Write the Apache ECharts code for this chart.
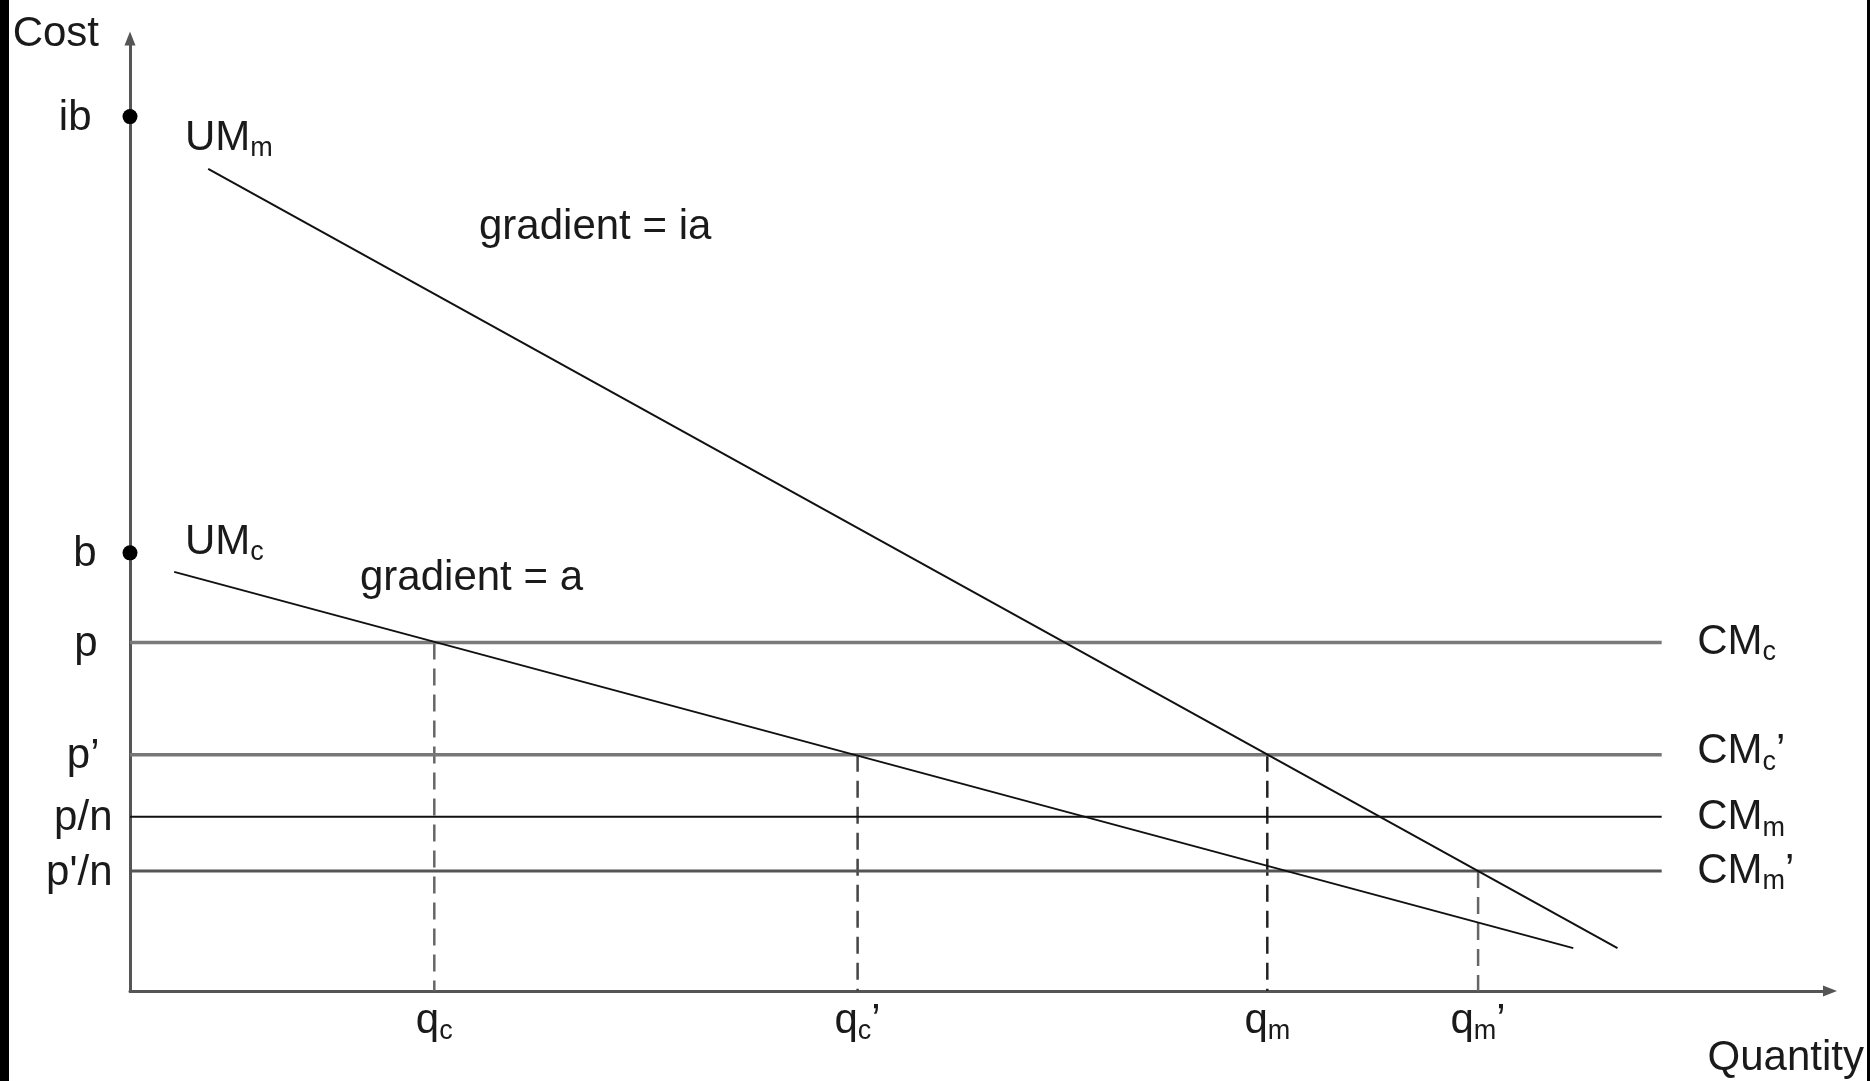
<!DOCTYPE html>
<html><head><meta charset="utf-8">
<script src="https://cdn.jsdelivr.net/npm/echarts@6/dist/echarts.min.js"></script>
<style>html,body{margin:0;padding:0;background:#fff}#c{width:1870px;height:1081px}</style>
</head><body><div id="c"></div>
<script>
// ---- data (abstract units: quantity 0-100, cost 0-100) ----
const qValues = [17.9, 42.8, 66.9, 79.3];
const qLabels = ['q{s|c}', 'q{s|c}’', 'q{s|m}', 'q{s|m}’'];
const costValues = [91.8, 46.0, 36.6, 24.8, 18.3, 12.6];
const costLabels = ['ib', 'b', 'p', 'p’', 'p/n', "p'/n"];
const cmLevels = [36.6, 24.8, 18.3, 12.6];
const cmLabels = ['CM{s|c}', 'CM{s|c}’', 'CM{s|m}', 'CM{s|m}’'];
const cmEndX = 90.1;
const umM = [[4.6, 86.3], [87.5, 4.5]];
const umC = [[2.6, 44.0], [84.9, 4.5]];
const dropQ = [17.9, 42.8, 66.9, 79.3];
const dropLevel = [36.6, 24.8, 24.8, 12.6];
const interceptDots = [91.8, 46.0];
const annotations = [
  {text: 'UM{s|m}', x: 3.2, y: 89.5},
  {text: 'UM{s|c}', x: 3.2, y: 47.1},
  {text: 'gradient = ia', x: 20.5, y: 80.2},
  {text: 'gradient = a', x: 13.5, y: 43.3}
];

// ---- styles ----
const FONT = "'Liberation Sans', Arial, sans-serif";
const TXT = '#1a1a1a';
const rich = {s: {fontSize: 27, lineHeight: 20, verticalAlign: 'bottom', fontFamily: FONT, color: TXT, opacity: 1}};
const baseLabel = {show: true, fontSize: 42, lineHeight: 48, fontFamily: FONT, color: TXT, opacity: 1, rich: rich};
const costLabelDist = [38, 33, 32, 30, 17, 17];
const cmColors = ['#7a7a7a', '#777', '#111', '#555'];
const cmWidths = [3.5, 3.5, 2, 3];
const cmOffsets = [0, -3, 1, 0];
const dropColors = ['#666', '#444', '#222', '#666'];
const hidden = {color: 'rgba(0,0,0,0)', opacity: 1};

const series = [];
cmLevels.forEach((lv, i) => {
  series.push({type: 'line', silent: true, symbol: 'none', data: [[0, lv], [cmEndX, lv]],
    lineStyle: {color: cmColors[i], width: cmWidths[i]}, z: 2});
  series.push({type: 'scatter', silent: true, clip: false, symbolSize: 1, itemStyle: hidden,
    data: [[cmEndX, lv]],
    label: Object.assign({}, baseLabel, {position: 'right', distance: 35, offset: [0, cmOffsets[i]],
      formatter: () => cmLabels[i]})});
});
dropQ.forEach((q, i) => {
  series.push({type: 'line', silent: true, symbol: 'none', data: [[q, dropLevel[i]], [q, 0]],
    lineStyle: {color: dropColors[i], width: 2.5, type: [17, 9]}, z: 1});
});
[umM, umC].forEach(d => {
  series.push({type: 'line', silent: true, symbol: 'none', data: d,
    lineStyle: {color: '#111', width: 2}, z: 3});
});
series.push({type: 'scatter', silent: true, clip: false, symbol: 'circle', symbolSize: 15,
  itemStyle: {color: '#000', opacity: 1}, data: interceptDots.map(v => [0, v]), z: 5});
costValues.forEach((v, i) => {
  series.push({type: 'scatter', silent: true, clip: false, symbolSize: 1, itemStyle: hidden,
    data: [[0, v]],
    label: Object.assign({}, baseLabel, {position: 'left', distance: costLabelDist[i], offset: [0, 2],
      formatter: () => costLabels[i]})});
});
qValues.forEach((q, i) => {
  series.push({type: 'scatter', silent: true, clip: false, symbolSize: 1, itemStyle: hidden,
    data: [[q, 0]],
    label: Object.assign({}, baseLabel, {position: 'bottom', distance: 6,
      formatter: () => qLabels[i]})});
});
annotations.forEach(a => {
  series.push({type: 'scatter', silent: true, clip: false, symbolSize: 1, itemStyle: hidden,
    data: [[a.x, a.y]],
    label: Object.assign({}, baseLabel, {position: 'right', distance: 0, formatter: () => a.text})});
});

const axisLine = {show: true, onZero: false, symbol: ['none', 'triangle'], symbolSize: [11, 14],
  lineStyle: {color: '#555', width: 3}};

const chart = echarts.init(document.getElementById('c'), null, {renderer: 'canvas'});
chart.setOption({
  animation: false,
  backgroundColor: '#fff',
  grid: {left: 130, right: 40, top: 38.5, bottom: 90, containLabel: false, outerBoundsMode: 'none'},
  xAxis: {type: 'value', min: 0, max: 100, axisLine: axisLine, axisTick: {show: false},
    axisLabel: {show: false}, splitLine: {show: false},
    name: 'Quantity', nameLocation: 'end', nameGap: 34,
    nameTextStyle: {fontSize: 42, lineHeight: 42, fontFamily: FONT, color: TXT, align: 'right',
      verticalAlign: 'top', padding: [46, 0, 0, 0]}},
  yAxis: {type: 'value', min: 0, max: 100, axisLine: axisLine, axisTick: {show: false},
    axisLabel: {show: false}, splitLine: {show: false},
    name: 'Cost', nameLocation: 'end', nameGap: 4.5,
    nameTextStyle: {fontSize: 42, lineHeight: 42, fontFamily: FONT, color: TXT, align: 'right',
      verticalAlign: 'middle', padding: [0, 31, 0, 0]}},
  graphic: [
    {type: 'rect', left: 0, top: 0, shape: {width: 9, height: 1081}, style: {fill: '#000'}, z: 100},
    {type: 'rect', left: 1867, top: 0, shape: {width: 3, height: 1081}, style: {fill: '#000'}, z: 100}
  ],
  series: series
});
</script></body></html>
